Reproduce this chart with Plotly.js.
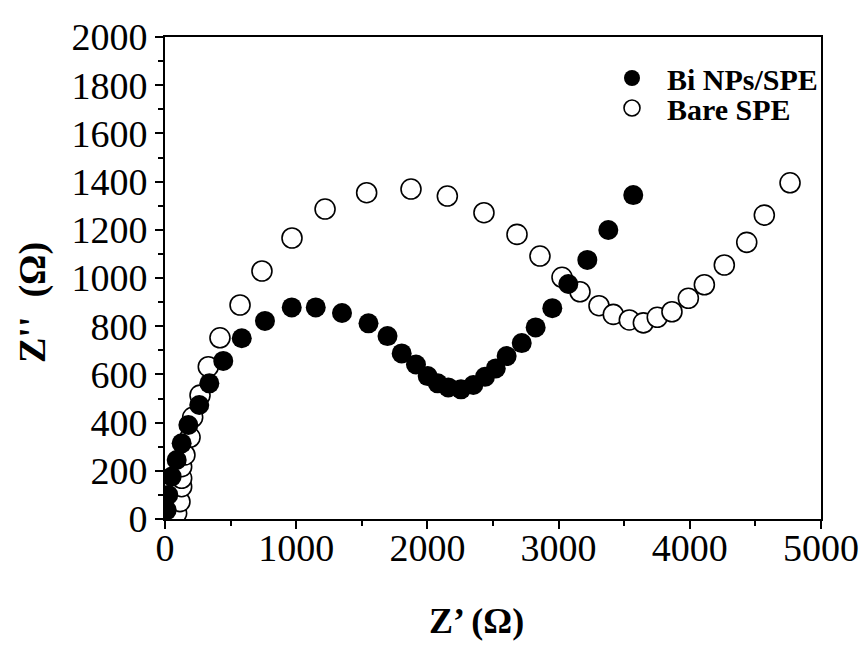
<!DOCTYPE html>
<html>
<head>
<meta charset="utf-8">
<script src="https://cdn.plot.ly/plotly-3.0.1.min.js"></script>
<style>
html,body{margin:0;padding:0;background:#fff;}
#chart{width:867px;height:646px;}
</style>
</head>
<body>
<div id="chart"></div>
<script>
// Bi NPs/SPE (filled)
const biX = [13, 25, 51, 89, 127, 178, 261, 338, 444, 585, 762, 966, 1149, 1349, 1551, 1696, 1804, 1913, 2002, 2079, 2159, 2256, 2350, 2439, 2521, 2604, 2719, 2825, 2952, 3074, 3219, 3379, 3569];
const biY = [37, 100, 176, 245, 314, 390, 473, 563, 656, 750, 822, 878, 878, 855, 812, 759, 687, 641, 593, 563, 546, 538, 556, 590, 625, 676, 730, 795, 875, 975, 1075, 1199, 1344];
// Bare SPE (open)
const bareX = [89, 114, 127, 127, 127, 152, 191, 211, 267, 330, 419, 572, 739, 968, 1220, 1537, 1875, 2152, 2431, 2683, 2858, 3026, 3163, 3308, 3417, 3539, 3646, 3752, 3864, 3989, 4111, 4263, 4434, 4568, 4764];
const bareY = [24, 72, 134, 169, 217, 266, 339, 422, 514, 632, 752, 888, 1029, 1166, 1286, 1354, 1369, 1340, 1271, 1181, 1091, 1003, 943, 885, 849, 826, 814, 837, 860, 916, 972, 1054, 1148, 1261, 1395];
const seriesNames = ['Bi NPs/SPE', 'Bare SPE'];
const xTickVals = [0, 1000, 2000, 3000, 4000, 5000];
const yTickVals = [0, 200, 400, 600, 800, 1000, 1200, 1400, 1600, 1800, 2000];

const FONT = 'Liberation Serif, Times New Roman, serif';

const traces = [
  {
    x: bareX, y: bareY, name: seriesNames[1], type: 'scatter', mode: 'markers', legend: 'legend2',
    marker: {symbol: 'circle', size: 20, color: '#ffffff', line: {color: '#000000', width: 1.6}}
  },
  {
    x: biX, y: biY, name: seriesNames[0], type: 'scatter', mode: 'markers', legend: 'legend',
    marker: {symbol: 'circle', size: 20, color: '#000000', line: {color: '#000000', width: 0}}
  }
];

const axisCommon = {
  showgrid: false, zeroline: false, showline: true, linecolor: '#000', linewidth: 2,
  mirror: true, ticks: 'outside', ticklen: 8, tickwidth: 2, tickcolor: '#000',
  tickfont: {family: FONT, size: 38, color: '#000'}
};

const legendCommon = {
  xanchor: 'left', yanchor: 'middle', bgcolor: 'rgba(0,0,0,0)',
  font: {family: FONT, size: 30, color: '#000', weight: 'bold'},
  itemwidth: 60
};

const layout = {
  width: 867, height: 646,
  margin: {l: 165, r: 46, t: 37, b: 127},
  paper_bgcolor: '#fff', plot_bgcolor: '#fff',
  showlegend: true,
  legend: Object.assign({}, legendCommon, {x: (597 - 165) / 656, y: (519 - 78) / 482}),
  legend2: Object.assign({}, legendCommon, {x: (597 - 165) / 656, y: (519 - 108) / 482}),
  xaxis: Object.assign({}, axisCommon, {
    range: [0, 5000], tickvals: xTickVals, ticktext: xTickVals.map(String),
    ticklabelstandoff: -14,
    minor: {dtick: 500, tick0: 0, ticks: 'outside', ticklen: 5, tickwidth: 2, tickcolor: '#000'}
  }),
  yaxis: Object.assign({}, axisCommon, {
    range: [0, 2000], tickvals: yTickVals, ticktext: yTickVals.map(String),
    minor: {dtick: 100, tick0: 0, ticks: 'outside', ticklen: 5, tickwidth: 2, tickcolor: '#000'}
  }),
  annotations: [
    {text: '<b>Z’ (Ω)</b>', xref: 'paper', yref: 'paper', x: (476 - 165) / 656, y: (519 - 621) / 482, xanchor: 'center', yanchor: 'middle',
     showarrow: false, font: {family: FONT, size: 36, color: '#000'}},
    {text: "<b>Z''  (Ω)</b>", xref: 'paper', yref: 'paper', x: (32 - 165) / 656, y: (519 - 303) / 482, xanchor: 'center', yanchor: 'middle',
     textangle: -90, showarrow: false, font: {family: FONT, size: 38, color: '#000'}}
  ]
};

Plotly.newPlot('chart', traces, layout, {displayModeBar: false, staticPlot: true});
</script>
</body>
</html>
